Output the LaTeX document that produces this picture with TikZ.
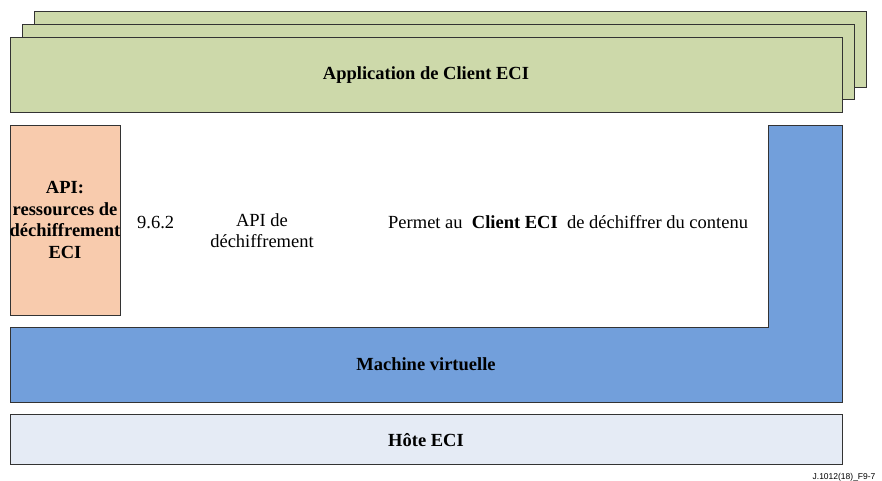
\documentclass[tikz,border=0pt]{standalone}
\usepackage{fontspec}
\setmainfont{Liberation Serif}
\newfontfamily\labelfont{Liberation Sans}
\definecolor{appgreen}{HTML}{CDD9AA}
\definecolor{apiorange}{HTML}{F8CBAD}
\definecolor{vmblue}{HTML}{729FDB}
\definecolor{hostblue}{HTML}{E5EBF5}
\definecolor{edge}{HTML}{333333}
\begin{document}
\begin{tikzpicture}[x=1pt,y=-1pt,
  box/.style={draw=edge, line width=1pt, inner sep=0pt, outer sep=0pt},
  boldtxt/.style={font=\fontsize{18.5}{21.5}\selectfont\bfseries, align=center},
  plaintxt/.style={font=\fontsize{18.5}{21}\selectfont, align=center}]
\useasboundingbox (0,0) rectangle (882,481);
% stacked application boxes
\draw[box, fill=appgreen] (34,12) rectangle (866,88);
\draw[box, fill=appgreen] (22,25) rectangle (854,100);
\node[box, fill=appgreen, minimum width=832pt, minimum height=75pt, anchor=north west] (app) at (10,38) {};
\node[boldtxt] (apptxt) at (426,75) {Application de Client ECI};
% API box
\node[box, fill=apiorange, minimum width=110pt, minimum height=189pt, anchor=north west] (api) at (10,126) {};
\node[boldtxt, inner sep=0pt] (apitxt) at (65,220) {API:\\ressources de\\déchiffrement\\ECI};
% virtual machine L-shape
\draw[box, fill=vmblue] (768,126) -- (842,126) -- (842,402) -- (10,402) -- (10,327) -- (768,327) -- cycle;
\coordinate (vmc) at (426,364);
\node[boldtxt] (vmtxt) at (vmc) {Machine virtuelle};
% host
\node[box, fill=hostblue, minimum width=832pt, minimum height=50pt, anchor=north west] (host) at (10,414.5) {};
\node[boldtxt] (hosttxt) at (426,440) {Hôte ECI};
% table row texts
\node[plaintxt, anchor=base west, inner sep=0pt] (num) at (137,228) {9.6.2};
\node[plaintxt] (apide) at (262,231) {API de\\déchiffrement};
\node[plaintxt, anchor=base west, inner sep=0pt] (desc) at (388,228) {Permet au \ \textbf{Client ECI} \ de déchiffrer du contenu};
% figure label
\node[font=\labelfont\fontsize{8.5}{10}\selectfont, anchor=base east] (fig) at (879,479) {J.1012(18)\_F9-7};
\end{tikzpicture}
\end{document}
